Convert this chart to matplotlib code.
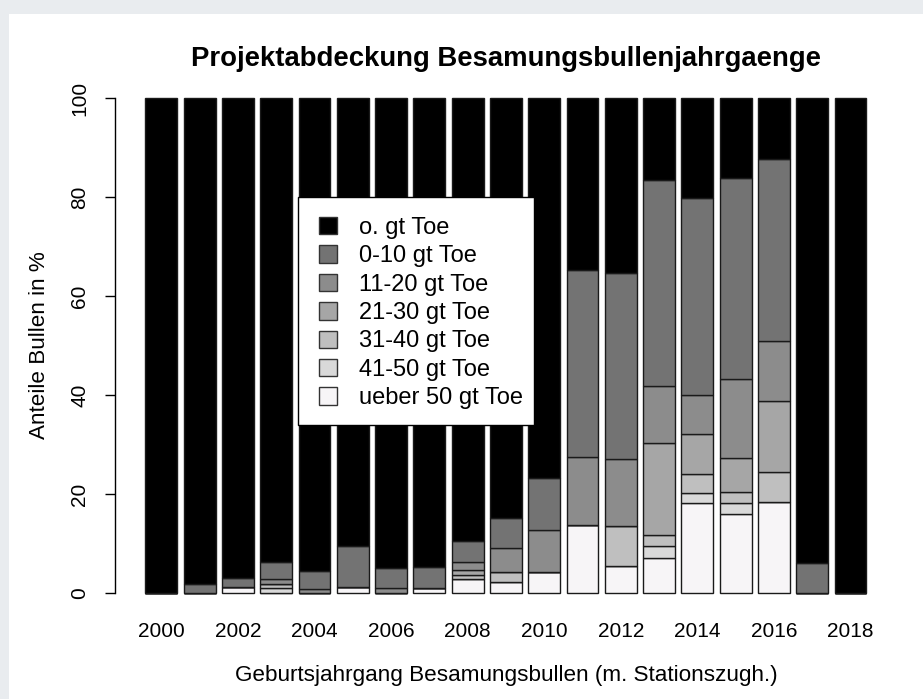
import numpy as np
import matplotlib
matplotlib.use("Agg")
import matplotlib.pyplot as plt
from matplotlib.patches import Patch, Rectangle

plt.rcParams['font.family'] = ['Liberation Sans', 'DejaVu Sans']

years = list(range(2000, 2019))
categories = ["o. gt Toe", "0-10 gt Toe", "11-20 gt Toe", "21-30 gt Toe",
              "31-40 gt Toe", "41-50 gt Toe", "ueber 50 gt Toe"]
colors = ["#000000", "#737373", "#8c8c8c", "#a6a6a6", "#bfbfbf", "#d9d9d9", "#f7f5f7"]

# shares (%) per birth year, stacked from bottom (ueber 50) upwards
ueber50 = [0, 0, 1.1, 0, 0, 1.1, 0, 0.9, 2.7, 2.1, 4.25, 13.7, 5.4, 6.95, 18.1, 15.85, 18.3, 0, 0]
g41_50 = [0, 0, 0, 0.9, 0, 0, 0, 0, 0, 0, 0, 0, 0, 2.5, 2.0, 2.35, 0, 0, 0]
g31_40 = [0, 0, 0, 0.85, 0, 0, 0, 0, 0.9, 2.0, 0, 0, 8.1, 2.25, 3.9, 2.25, 6.2, 0, 0]
g21_30 = [0, 0, 0, 0, 0, 0, 0, 0, 0.9, 0, 0, 0, 0, 18.65, 8.05, 6.85, 14.3, 0, 0]
g11_20 = [0, 0, 0, 0.95, 0.75, 0, 0.9, 0, 1.65, 5.0, 8.45, 13.8, 13.5, 11.45, 7.95, 15.9, 12.1, 0, 0]
g0_10 = [0, 1.75, 1.95, 3.45, 3.7, 8.35, 4.1, 4.35, 4.35, 6.1, 10.6, 37.8, 37.75, 41.7, 39.8, 40.8, 36.85, 5.95, 0]
tick_years = [2000, 2002, 2004, 2006, 2008, 2010, 2012, 2014, 2016, 2018]

stack_bottom_up = [ueber50, g41_50, g31_40, g21_30, g11_20, g0_10]
cols_bottom_up = colors[::-1][:6]

W, H = 923, 699
fig = plt.figure(figsize=(W / 100, H / 100), dpi=100, facecolor="#e9ecef")
fig.patches.append(Rectangle((9 / W, 0), 1 - 9 / W, 1 - 12 / H - 0.003,
                             transform=fig.transFigure, facecolor="white",
                             edgecolor="none", zorder=-10))

# plot region in pixels; bar i sits at 161.3 + 38.29 * i
x0, x1 = 115, 896
ax = fig.add_axes([x0 / W, (H - 612.5) / H, (x1 - x0) / W, (612.5 - 78.7) / H])
ax.set_zorder(5)
ax.set_facecolor("none")
ax.set_xlim((x0 - 161.3) / 38.29, (x1 - 161.3) / 38.29)
ax.set_ylim(-4, 104)

xpos = np.array([y - 2000 for y in years], dtype=float)
bw = 1 / 1.2
bottom = np.zeros(len(years))
for vals, c in zip(stack_bottom_up, cols_bottom_up):
    v = np.array(vals, dtype=float)
    ax.bar(xpos, v, bw, bottom=bottom, color=c, edgecolor="#1a1a1a", linewidth=1.0)
    bottom += v
rest = 100 - bottom
ax.bar(xpos, rest, bw, bottom=bottom, color=colors[0], edgecolor="#1a1a1a", linewidth=1.0)

for s in ["top", "right", "bottom"]:
    ax.spines[s].set_visible(False)
ax.spines["left"].set_bounds(0, 100)
ax.spines["left"].set_linewidth(1.0)
ax.set_yticks([0, 20, 40, 60, 80, 100])
ax.tick_params(axis="y", length=7.2, width=1.0, pad=11.5, labelsize=15)
for lab in ax.get_yticklabels():
    lab.set_rotation(90)
    lab.set_va("center")
ax.set_xticks([y - 2000 for y in tick_years])
ax.set_xticklabels([str(y) for y in tick_years])
ax.tick_params(axis="x", length=0, pad=7, labelsize=15)

xc = 506 / W
fig.text(xc, 1 - 59.5 / H, "Projektabdeckung Besamungsbullenjahrgaenge",
         ha="center", va="center", fontsize=19.8, fontweight="bold")
fig.text(xc, 1 - 676 / H,
         "Geburtsjahrgang Besamungsbullen (m. Stationszugh.)",
         ha="center", va="center", fontsize=16.2)
fig.text(40 / W, 1 - 345 / H, "Anteile Bullen in %", ha="center", va="center",
         rotation=90, fontsize=16.2)

# legend box drawn separately so its padding can be asymmetric
ax.add_patch(Rectangle((298 / W, 1 - 425 / H), (534 - 298) / W, (425 - 197) / H,
                       transform=fig.transFigure, facecolor="white",
                       edgecolor="black", linewidth=1.0, zorder=10, clip_on=False))
handles = [Patch(facecolor=c, edgecolor="#333333", linewidth=1.0) for c in colors]
leg = ax.legend(handles, categories, loc="upper left",
                bbox_to_anchor=(319 / W, 1 - 217 / H), bbox_transform=fig.transFigure,
                fontsize=17, frameon=False, handlelength=0.76, handleheight=0.76,
                handletextpad=0.93, labelspacing=0.27, borderpad=0, borderaxespad=0)
leg.set_zorder(11)

fig.savefig("out.png", dpi=100, facecolor=fig.get_facecolor())
